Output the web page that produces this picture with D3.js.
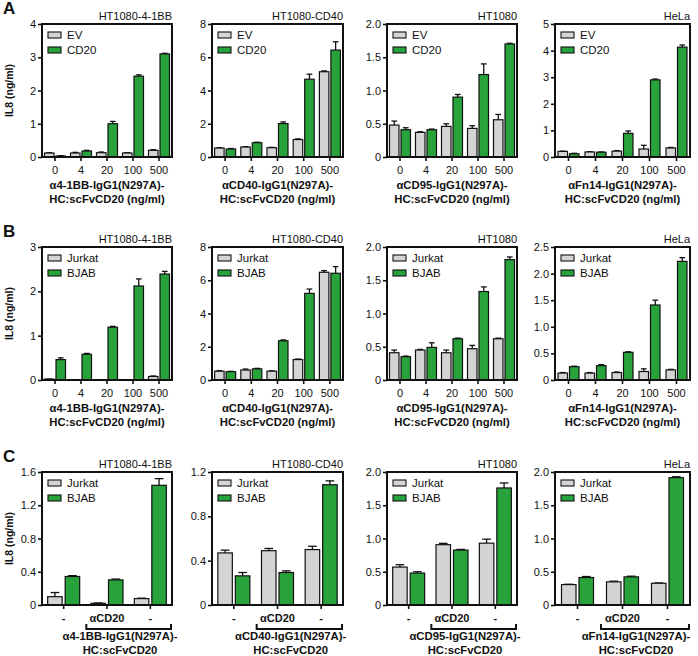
<!DOCTYPE html>
<html><head><meta charset="utf-8">
<script src="https://cdn.jsdelivr.net/npm/d3@7/dist/d3.min.js"></script>
<style>body{margin:0;background:#fff}svg{display:block}text{font-family:"Liberation Sans",Arial,sans-serif;fill:#111}</style>
</head><body><svg id="c" width="698" height="656"></svg>
<script>
// ---- data ----
const panelLetters = ["A","B","C"];
const cellLines = ["HT1080-4-1BB","HT1080-CD40","HT1080","HeLa"];
const xTitles = ["α4-1BB-IgG1(N297A)-","αCD40-IgG1(N297A)-","αCD95-IgG1(N297A)-","αFn14-IgG1(N297A)-"];
const xTitle2AB = "HC:scFvCD20 (ng/ml)";
const xTitle2C = "HC:scFvCD20";
const yTitle = "IL8 (ng/ml)";
const doses = ["0","4","20","100","500"];
const treatmentsC = ["-","αCD20","-"];
const seriesA = ["EV","CD20"];
const seriesBC = ["Jurkat","BJAB"];

// Row A
const aYMax = [4,8,2,5], aYStep = [1,2,0.5,1];
const aEV    = [[0.12,0.12,0.13,0.12,0.2],[0.54,0.6,0.56,1.05,5.13],[0.48,0.37,0.46,0.43,0.56],[0.21,0.19,0.22,0.3,0.34]];
const aEVErr = [[0.01,0.02,0.02,0.01,0.02],[0.02,0.02,0.02,0.04,0.05],[0.06,0.01,0.04,0.04,0.08],[0.01,0.01,0.02,0.14,0.02]];
const aCD20    = [[0.03,0.18,1.0,2.43,3.1],[0.48,0.86,2.01,4.68,6.43],[0.41,0.41,0.9,1.24,1.7],[0.12,0.18,0.89,2.9,4.13]];
const aCD20Err = [[0.01,0.02,0.07,0.04,0.02],[0.03,0.03,0.1,0.3,0.5],[0.03,0.01,0.04,0.16,0.01],[0.02,0.01,0.09,0.03,0.08]];
// Row B
const bYMax = [3,8,2,2.5], bYStep = [1,2,0.5,0.5];
const bJurkat    = [[0.02,0,0,0,0.08],[0.53,0.6,0.53,1.23,6.48],[0.41,0.45,0.41,0.47,0.62],[0.13,0.13,0.14,0.16,0.19]];
const bJurkatErr = [[0,0,0,0,0.01],[0.03,0.06,0.02,0.03,0.1],[0.04,0.01,0.04,0.05,0.01],[0.01,0.01,0.01,0.05,0.01]];
const bBJAB    = [[0.46,0.58,1.19,2.12,2.39],[0.5,0.67,2.36,5.21,6.42],[0.35,0.49,0.62,1.33,1.81],[0.25,0.27,0.52,1.41,2.23]];
const bBJABErr = [[0.04,0.02,0.02,0.16,0.06],[0.02,0.03,0.05,0.26,0.4],[0.01,0.07,0.01,0.07,0.04],[0.01,0.02,0.01,0.09,0.07]];
// Row C
const cYMax = [1.6,1.2,2,2], cYStep = [0.4,0.4,0.5,0.5];
const cJurkat    = [[0.1,0.02,0.077],[0.47,0.49,0.5],[0.57,0.907,0.93],[0.307,0.348,0.327]];
const cJurkatErr = [[0.05,0.005,0.005],[0.025,0.02,0.03],[0.035,0.02,0.06],[0.005,0.01,0.005]];
const cBJAB    = [[0.343,0.302,1.44],[0.263,0.293,1.085],[0.48,0.826,1.76],[0.413,0.423,1.914]];
const cBJABErr = [[0.01,0.01,0.08],[0.03,0.015,0.035],[0.02,0.01,0.075],[0.015,0.01,0.015]];

// ---- layout ----
const lefts = [42,212,387,555], rights = [172,343,517,690];
const tops = [24,247,472], plotH = 133;
const colors = ["#d4d4d4","#28a33b"];
const svg = d3.select("#c");

const rows = [
  {cats:doses, yMax:aYMax, yStep:aYStep, names:seriesA, vals:[aEV,aCD20], errs:[aEVErr,aCD20Err], bw:9.5, gap:2, isC:false},
  {cats:doses, yMax:bYMax, yStep:bYStep, names:seriesBC, vals:[bJurkat,bBJAB], errs:[bJurkatErr,bBJABErr], bw:9.5, gap:2, isC:false},
  {cats:treatmentsC, yMax:cYMax, yStep:cYStep, names:seriesBC, vals:[cJurkat,cBJAB], errs:[cJurkatErr,cBJABErr], bw:14.5, gap:3, isC:true}
];

rows.forEach((row, r) => {
  const yTop = tops[r], yBot = yTop + plotH;
  svg.append("text").attr("x",3).attr("y",yTop-10).attr("font-size",17).attr("font-weight","bold").text(panelLetters[r]);
  svg.append("text").attr("transform",`translate(12.5,${(yTop+yBot)/2}) rotate(-90)`)
    .attr("text-anchor","middle").attr("font-size",10.5).attr("font-weight","bold").text(yTitle);

  for (let c = 0; c < 4; c++) {
    const x0 = lefts[c], x1 = rights[c];
    const g = svg.append("g");
    const y = d3.scaleLinear().domain([0,row.yMax[c]]).range([yBot,yTop]);
    const idx = d3.range(row.cats.length);
    const x = d3.scaleBand().domain(idx).range([x0,x1]);
    const step = row.yStep[c];
    const ticks = d3.range(0, row.yMax[c] + step/2, step);
    const fmt = v => v === 0 ? "0" : (step < 1 ? d3.format(".1f")(v) : d3.format("d")(v));

    const ya = g.append("g").attr("transform",`translate(${x0},0)`)
      .call(d3.axisLeft(y).tickValues(ticks).tickFormat(fmt).tickSize(4).tickPadding(2));
    ya.select(".domain").remove();
    ya.selectAll("line").attr("stroke","#111").attr("stroke-width",1.6);
    ya.selectAll("text").attr("font-size",11).attr("fill","#111").style("font-family","Liberation Sans, Arial, sans-serif");

    const xa = g.append("g").attr("transform",`translate(0,${yBot})`)
      .call(d3.axisBottom(x).tickFormat(i => row.cats[i]).tickSize(4).tickPadding(5));
    xa.select(".domain").remove();
    xa.selectAll("line").attr("stroke","#111").attr("stroke-width",1.6);
    xa.selectAll("text").attr("font-size",11).attr("fill","#111").attr("font-weight", row.isC ? "bold" : "normal")
      .style("font-family","Liberation Sans, Arial, sans-serif");

    // bars
    const bw = row.bw, gap = row.gap;
    [0,1].forEach(s => {
      const vals = row.vals[s][c], errs = row.errs[s][c];
      const bx = i => x(i) + x.bandwidth()/2 + (s === 0 ? -gap/2 - bw : gap/2);
      g.selectAll(null).data(idx).enter().append("line")
        .attr("x1", i => bx(i)+bw/2).attr("x2", i => bx(i)+bw/2)
        .attr("y1", i => y(vals[i])).attr("y2", i => y(vals[i]+errs[i]))
        .attr("stroke","#111").attr("stroke-width",1.3);
      g.selectAll(null).data(idx).enter().append("line")
        .attr("x1", i => bx(i)+bw*0.2).attr("x2", i => bx(i)+bw*0.8)
        .attr("y1", i => y(vals[i]+errs[i])).attr("y2", i => y(vals[i]+errs[i]))
        .attr("stroke","#111").attr("stroke-width",1.3);
      g.selectAll(null).data(idx).enter().append("rect")
        .attr("x", bx).attr("width", bw)
        .attr("y", i => y(vals[i])).attr("height", i => Math.max(0, y(0)-y(vals[i])))
        .attr("fill", colors[s]).attr("stroke","#111").attr("stroke-width",1.2);
    });

    // frame
    g.append("rect").attr("x",x0).attr("y",yTop).attr("width",x1-x0).attr("height",plotH)
      .attr("fill","none").attr("stroke","#111").attr("stroke-width",2);

    // legend
    row.names.forEach((nm,k) => {
      const cy = yTop + 11 + k*15;
      g.append("rect").attr("x",x0+6).attr("y",cy-3).attr("width",13).attr("height",6)
        .attr("fill",colors[k]).attr("stroke","#111").attr("stroke-width",1.1);
      g.append("text").attr("x",x0+25).attr("y",cy+4).attr("font-size",11.5).text(nm);
    });

    // title
    g.append("text").attr("x",x1).attr("y",yTop-4).attr("text-anchor","end").attr("font-size",11).text(cellLines[c]);

    // x titles
    const fsT = 11.3;
    if (!row.isC) {
      const cx = (x0+x1)/2;
      g.append("text").attr("x",cx).attr("y",yBot+32).attr("text-anchor","middle").attr("font-size",fsT).attr("font-weight","bold").text(xTitles[c]);
      g.append("text").attr("x",cx).attr("y",yBot+46).attr("text-anchor","middle").attr("font-size",fsT).attr("font-weight","bold").text(xTitle2AB);
    } else {
      const bx0 = x(1)+1, bx1 = x(2)+x.bandwidth()-1, by = yBot+24;
      g.append("path").attr("d",`M${bx0},${by-5}V${by}H${bx1}V${by-5}`)
        .attr("fill","none").attr("stroke","#111").attr("stroke-width",2);
      const cx = x0 + 0.6*(x1-x0);
      g.append("text").attr("x",cx).attr("y",yBot+35).attr("text-anchor","middle").attr("font-size",fsT).attr("font-weight","bold").text(xTitles[c]);
      g.append("text").attr("x",cx).attr("y",yBot+49).attr("text-anchor","middle").attr("font-size",fsT).attr("font-weight","bold").text(xTitle2C);
    }
  }
});
</script></body></html>
